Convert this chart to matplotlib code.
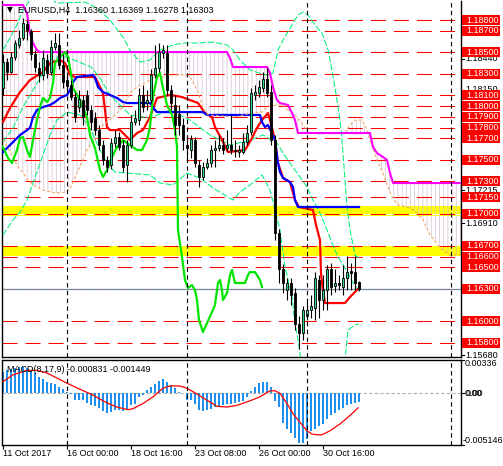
import numpy as np
import matplotlib
matplotlib.use('Agg')
import matplotlib.pyplot as plt
from matplotlib.transforms import blended_transform_factory
from matplotlib.patches import Rectangle, Polygon
from matplotlib.lines import Line2D

plt.rcParams['font.family'] = ['Liberation Sans', 'DejaVu Sans']
plt.rcParams['hatch.linewidth'] = 0.5

# ---------------- candles (EURUSD H4) ----------------
opens = [
1.1817, 1.1841, 1.1832, 1.1846, 1.1857, 1.1863, 1.1876, 1.1870, 1.1848, 1.1835,
1.1829, 1.1843, 1.1832, 1.1855, 1.1857, 1.1838, 1.1824, 1.1820, 1.1808, 1.1799,
1.1806, 1.1810, 1.1796, 1.1789, 1.1778, 1.1764, 1.1750, 1.1745, 1.1766, 1.1771,
1.1764, 1.1745, 1.1764, 1.1785, 1.1787, 1.1810, 1.1803, 1.1806, 1.1829, 1.1835,
1.1849, 1.1849, 1.1815, 1.1801, 1.1793, 1.1782, 1.1764, 1.1759, 1.1768, 1.1745,
1.1734, 1.1743, 1.1747, 1.1759, 1.1761, 1.1764, 1.1761, 1.1764, 1.1759, 1.1757,
1.1757, 1.1767, 1.1776, 1.1810, 1.1812, 1.1817, 1.1825, 1.1813, 1.1768, 1.1682,
1.1648, 1.1629, 1.1635, 1.1626, 1.1597, 1.1589, 1.1605, 1.1610, 1.1612, 1.1638,
1.1620, 1.1629, 1.1648, 1.1633, 1.1635, 1.1632, 1.1640, 1.1647, 1.1646, 1.16360]
highs = [
1.1848, 1.1845, 1.1850, 1.1861, 1.1871, 1.1882, 1.1880, 1.1872, 1.1852, 1.1841,
1.1852, 1.1848, 1.1861, 1.1868, 1.1868, 1.1848, 1.1832, 1.1824, 1.1813, 1.1815,
1.1810, 1.1815, 1.1801, 1.1794, 1.1782, 1.1768, 1.1754, 1.1770, 1.1778, 1.1776,
1.1768, 1.1768, 1.1792, 1.1796, 1.1817, 1.1820, 1.1815, 1.1834, 1.1857, 1.1859,
1.1857, 1.1857, 1.1820, 1.1810, 1.1801, 1.1789, 1.1773, 1.1773, 1.1771, 1.1750,
1.1748, 1.1752, 1.1764, 1.1768, 1.1773, 1.1770, 1.1778, 1.1792, 1.1768, 1.1764,
1.1775, 1.1782, 1.1817, 1.1820, 1.1824, 1.1832, 1.1835, 1.1820, 1.1773, 1.1686,
1.1653, 1.1640, 1.1640, 1.1631, 1.1605, 1.1614, 1.1620, 1.1624, 1.1646, 1.1643,
1.1643, 1.1652, 1.1654, 1.1648, 1.1643, 1.1652, 1.1661, 1.1654, 1.1661, 1.16369]
lows = [
1.1810, 1.1824, 1.1831, 1.1843, 1.1854, 1.1861, 1.1861, 1.1843, 1.1832, 1.1822,
1.1824, 1.1826, 1.1829, 1.1852, 1.1834, 1.1817, 1.1815, 1.1806, 1.1785, 1.1794,
1.1782, 1.1792, 1.1778, 1.1773, 1.1759, 1.1745, 1.1739, 1.1741, 1.1762, 1.1759,
1.1739, 1.1729, 1.1761, 1.1782, 1.1782, 1.1794, 1.1796, 1.1803, 1.1826, 1.1832,
1.1845, 1.1810, 1.1796, 1.1773, 1.1773, 1.1759, 1.1750, 1.1752, 1.1743, 1.1725,
1.1731, 1.1741, 1.1743, 1.1743, 1.1758, 1.1755, 1.1758, 1.1755, 1.1753, 1.1753,
1.1755, 1.1764, 1.1773, 1.1806, 1.1808, 1.1813, 1.1808, 1.1764, 1.1675, 1.1635,
1.1626, 1.1620, 1.1615, 1.1592, 1.1574, 1.1582, 1.1601, 1.1603, 1.1601, 1.1603,
1.1610, 1.1610, 1.1624, 1.1627, 1.1629, 1.1624, 1.1629, 1.1629, 1.1629, 1.16278]
closes = [
1.1841, 1.1832, 1.1846, 1.1859, 1.1863, 1.1877, 1.1871, 1.1848, 1.1836, 1.1829,
1.1845, 1.1831, 1.1855, 1.1859, 1.1838, 1.1822, 1.1819, 1.1808, 1.1790, 1.1807,
1.1790, 1.1796, 1.1785, 1.1778, 1.1764, 1.1750, 1.1743, 1.1766, 1.1771, 1.1762,
1.1743, 1.1764, 1.1785, 1.1789, 1.1810, 1.1799, 1.1806, 1.1829, 1.1835, 1.1850,
1.1852, 1.1815, 1.1803, 1.1782, 1.1782, 1.1768, 1.1761, 1.1769, 1.1747, 1.1734,
1.1743, 1.1747, 1.1759, 1.1761, 1.1764, 1.1759, 1.1764, 1.1759, 1.1758, 1.1759,
1.1767, 1.1775, 1.1812, 1.1813, 1.1818, 1.1825, 1.1812, 1.1768, 1.1682, 1.1648,
1.1635, 1.1635, 1.1624, 1.1597, 1.1589, 1.1610, 1.1610, 1.1614, 1.1640, 1.1620,
1.1629, 1.1648, 1.1632, 1.1635, 1.1634, 1.1640, 1.1646, 1.1645, 1.1635, 1.16303]

# ---------------- Ichimoku (bar index, price) ----------------
tenkan_bar = [0, 1.75, 4.25, 6.75, 10, 11.75, 14.25, 15.5, 16.75, 18, 23, 24.25, 25, 25.5, 26, 26.75,
              29.25, 31, 31.75, 33.5, 35, 36.75, 38.5, 41.75, 44.75, 46.75, 48.75, 50.5, 52.25, 53,
              54.75, 56.25, 60.5, 61.25, 62.25, 63.5, 64.75, 66.25, 66.75, 68, 68.75, 70, 71.75, 73,
              74, 77.5, 78.25, 79.25, 79.5, 79.75, 80.5, 85.5, 86.75, 88.5, 89]
tenkan_val = [1.17851, 1.17982, 1.18130, 1.18242, 1.18316, 1.18400, 1.18428, 1.18400, 1.18289, 1.18270,
              1.18270, 1.18177, 1.18121, 1.17963, 1.17805, 1.17777, 1.17777, 1.17712, 1.17684, 1.17749,
              1.17777, 1.17898, 1.18075, 1.18103, 1.18084, 1.18056, 1.18028, 1.17935, 1.17898, 1.17805,
              1.17684, 1.17572, 1.17591, 1.17637, 1.17703, 1.17796, 1.17870, 1.17935, 1.17870, 1.17684,
              1.17470, 1.17331, 1.17293, 1.17126, 1.17061, 1.17033, 1.16894, 1.16754, 1.16447, 1.16354,
              1.16168, 1.16168, 1.16224, 1.16289, 1.16308]
kijun_bar = [0, 1.75, 4.25, 6.75, 7.5, 8.5, 10, 11.75, 13, 14.25, 16, 16.75, 17.5, 18.5, 22.5, 23,
             23.75, 25, 26.75, 28.5, 30, 31, 36.75, 38, 38.5, 50, 51, 64.25, 64.75, 65.5, 66.25, 68,
             68.75, 69.25, 70, 71.75, 72.5, 73, 73.75, 89]
kijun_val = [1.17572, 1.17637, 1.17730, 1.17796, 1.17898, 1.17963, 1.17991, 1.18010, 1.18037, 1.18075,
             1.18103, 1.18149, 1.18223, 1.18270, 1.18289, 1.18261, 1.18177, 1.18130, 1.18103, 1.18075,
             1.18037, 1.18028, 1.18028, 1.17963, 1.17944, 1.17944, 1.17917, 1.17917, 1.17851, 1.17805,
             1.17824, 1.17684, 1.17470, 1.17386, 1.17331, 1.17293, 1.17247, 1.17126, 1.17061, 1.17061]
chikou_bar = [-0.75, 0, 1.25, 2.25, 3.5, 4.25, 5, 6, 6.75, 7.5, 8.5, 9.25, 10, 11, 11.75, 12.5, 13,
              14.25, 15.5, 16.25, 16.75, 17.25, 17.5, 19.25, 20, 21, 21.75, 23, 24.25, 25, 26, 27.25,
              28.5, 30, 31.75, 33.5, 34.75, 36, 36.75, 37.5, 38.5, 39.25, 40, 41, 42.25, 43, 43.5,
              43.75, 44.75, 45.5, 46.25, 47.25, 48, 48.5, 49, 50, 51, 52.25, 53, 53.75, 54.25, 54.75,
              55, 56, 56.75, 57.25, 58, 60.5, 61.25, 61.75, 63, 64.25, 64.75]
chikou_val = [1.17637, 1.17619, 1.17517, 1.17470, 1.17591, 1.17703, 1.17712, 1.17591, 1.17526, 1.17684,
              1.17870, 1.17991, 1.18075, 1.18037, 1.18075, 1.18214, 1.18400, 1.18456, 1.18502, 1.18456,
              1.18354, 1.18242, 1.18168, 1.18056, 1.17982, 1.17898, 1.17731, 1.17610, 1.17405, 1.17340,
              1.17405, 1.17526, 1.17619, 1.17684, 1.17637, 1.17591, 1.17591, 1.17684, 1.17805, 1.18084,
              1.18270, 1.18307, 1.18168, 1.18010, 1.17917, 1.17777, 1.17619, 1.16847, 1.16596, 1.16382,
              1.16308, 1.16335, 1.16289, 1.16196, 1.16010, 1.15898, 1.15982, 1.16084, 1.16150, 1.16354,
              1.16382, 1.16289, 1.16196, 1.16261, 1.16429, 1.16475, 1.16354, 1.16354, 1.16429, 1.16456,
              1.16456, 1.16382, 1.16317]
spanb_bar = [0, 5, 6, 6.75, 7.5, 8.5, 9.25, 56, 56.75, 57.5, 66, 66.75, 67.5, 68.5, 69.25, 71.25,
             72.25, 73, 73.75, 91.75, 92.5, 93.5, 95, 96, 96.75, 97.5, 114.5]
spanb_val = [1.18940, 1.18940, 1.18865, 1.18679, 1.18586, 1.18521, 1.18502, 1.18502, 1.18447, 1.18363,
             1.18363, 1.18307, 1.18177, 1.18056, 1.18028, 1.18010, 1.17935, 1.17870, 1.17749, 1.17749,
             1.17619, 1.17563, 1.17526, 1.17498, 1.17377, 1.17284, 1.17284]
spana_bar = [0, 1.25, 2.5, 3.75, 5, 6.25, 7.5, 10, 13, 16, 17.25, 18.5, 19.75, 21, 22.25, 23.5, 25,
             27.5, 30, 31.75, 33.5, 36, 37.5, 40, 42.5, 45, 46.75, 47.25, 48.75, 50, 51.25, 58, 60,
             62.25, 64.75, 66.25, 68.5, 70, 71.25, 72.5, 73.5, 75, 76.25, 85.5, 86.75, 88, 89.75, 91,
             91.75, 93.5, 95, 96.25, 97.25, 98.75, 101.75, 103.5, 105, 106.75, 109.25, 111.75, 114.5]
spana_val = [1.17684, 1.17610, 1.17526, 1.17433, 1.17377, 1.17312, 1.17266, 1.17219, 1.17191, 1.17200,
             1.17266, 1.17377, 1.17480, 1.17591, 1.17665, 1.17703, 1.17824, 1.17898, 1.17991, 1.18121,
             1.18177, 1.18223, 1.18261, 1.18270, 1.18289, 1.18289, 1.18270, 1.18242, 1.18130, 1.17982,
             1.17917, 1.17898, 1.17917, 1.17935, 1.17944, 1.17991, 1.18010, 1.18010, 1.17963, 1.17935,
             1.17898, 1.17824, 1.17749, 1.17749, 1.17824, 1.17870, 1.17870, 1.17777, 1.17684, 1.17498,
             1.17377, 1.17247, 1.17154, 1.17080, 1.17052, 1.17005, 1.16940, 1.16801, 1.16680, 1.16615,
             1.16615]

# ---------------- Bollinger bands ----------------
bb_up_bar = [0, 1.75, 3.5, 5, 6.75, 10.5, 13.5, 20.5, 23.5, 26.75, 30, 31.75, 34.25, 36.75, 39.25,
             42.5, 45, 48.5, 52.5, 56, 57.5, 59.25, 61.75, 65.5, 67.5, 68.75, 70, 72.25, 73.75, 75,
             76.25, 78, 79.75, 81.25, 82.25, 83.5, 84.25, 84.75, 85.5, 86, 86.75, 88, 89]
bb_up_val = [1.18521, 1.18633, 1.18754, 1.18893, 1.18986, 1.19033, 1.18958, 1.18967, 1.18912, 1.18800,
             1.18642, 1.18521, 1.18409, 1.18428, 1.18521, 1.18568, 1.18586, 1.18586, 1.18595, 1.18568,
             1.18521, 1.18428, 1.18335, 1.18289, 1.18307, 1.18521, 1.18614, 1.18754, 1.18847, 1.18874,
             1.18847, 1.18754, 1.18679, 1.18521, 1.18335, 1.18056, 1.17870, 1.17684, 1.17312, 1.17061,
             1.16847, 1.16614, 1.16587]
bb_mid_bar = [0, 2.5, 5, 7.5, 10, 13.5, 16, 19, 22, 24.25, 26.75, 28, 31.75, 36.75, 41.75, 46.75,
              51.75, 56.75, 61.75, 65, 68.5, 70, 71.75, 74.25, 76, 77.5, 79.25, 81, 82.25, 83.75,
              84.75, 86.25, 87.5, 89]
bb_mid_val = [1.17665, 1.17796, 1.17991, 1.18149, 1.18307, 1.18456, 1.18456, 1.18409, 1.18363, 1.18261,
              1.18103, 1.18056, 1.17917, 1.17889, 1.17963, 1.17870, 1.17731, 1.17637, 1.17684, 1.17731,
              1.17656, 1.17563, 1.17470, 1.17340, 1.17247, 1.17126, 1.17005, 1.16847, 1.16727, 1.16596,
              1.16540, 1.16447, 1.16354, 1.16280]
bb_lo_bar = [0, 2.5, 4.25, 6, 7.5, 10, 11.75, 13.5, 16, 19.25, 21.75, 24.25, 26, 28, 36.75, 39.25,
             42.5, 46, 49.25, 52.5, 57.5, 59.25, 61.75, 64.75, 66.75, 69.25, 70.5, 72.25, 73, 73.75,
             74.5, 79.25, 85.5, 86.25, 88, 89]
bb_lo_val = [1.16801, 1.16940, 1.17014, 1.17126, 1.17284, 1.17545, 1.17731, 1.17870, 1.17944, 1.17917,
             1.17796, 1.17591, 1.17470, 1.17386, 1.17359, 1.17284, 1.17266, 1.17377, 1.17331, 1.17238,
             1.17126, 1.17200, 1.17266, 1.17359, 1.17219, 1.16847, 1.16503, 1.16224, 1.15982, 1.15824,
             1.15638, 1.15080, 1.15638, 1.15917, 1.15964, 1.15973]

# ---------------- MACD(8,17,9) ----------------
macd_main = [
0.00208, 0.00228, 0.00242, 0.00252, 0.00262, 0.00262, 0.00252, 0.00235, 0.00201, 0.00161,
0.00141, 0.00117, 0.00100, 0.00093, 0.00066, 0.00040, 0.00009, -0.00005, -0.00069, -0.00069,
-0.00069, -0.00096, -0.00113, -0.00126, -0.00143, -0.00180, -0.00197, -0.00187, -0.00163, -0.00163,
-0.00177, -0.00170, -0.00120, -0.00102, -0.00035, -0.00020, 0.00032, 0.00060, 0.00093, 0.00127,
0.00141, 0.00117, 0.00083, 0.00050, 0.00015, 0.00005, -0.00062, -0.00069, -0.00102, -0.00170,
-0.00177, -0.00170, -0.00153, -0.00137, -0.00130, -0.00120, -0.00110, -0.00102, -0.00096, -0.00086,
-0.00076, -0.00042, 0.00025, 0.00066, 0.00100, 0.00113, 0.00113, 0.00060, -0.00076, -0.00137,
-0.00299, -0.00356, -0.00400, -0.00447, -0.00491, -0.00491, -0.00457, -0.00373, -0.00356, -0.00322,
-0.00305, -0.00254, -0.00221, -0.00197, -0.00163, -0.00143, -0.00120, -0.00102, -0.00096, -0.000831]
signal_bar = [0, 2.5, 6, 8.5, 11, 13.5, 16, 19.25, 22.5, 26, 28.5, 31.25, 32.5, 35, 37.5, 40, 41.75,
              44.25, 46, 48.5, 51, 53.5, 56, 58.5, 61.75, 64.25, 66.75, 68, 69.25, 71, 72.5, 74.25,
              76, 77.25, 78.5, 79.75, 81.75, 84.25, 86.75, 88.75]
signal_val = [0.00116, 0.00184, 0.00228, 0.00228, 0.00201, 0.00151, 0.00100, 0.00040, -0.00018, -0.00096,
              -0.00137, -0.00163, -0.00153, -0.00102, -0.00035, 0.00050, 0.00073, 0.00073, 0.00050, -0.00008,
              -0.00069, -0.00130, -0.00137, -0.00120, -0.00075, -0.00035, 0.00025, 0.00025, -0.00001, -0.00102,
              -0.00204, -0.00289, -0.00373, -0.00406, -0.00413, -0.00413, -0.00373, -0.00305, -0.00221, -0.001449]

# ---------------- levels / annotations ----------------
red_levels = [1.1880, 1.1870, 1.1850, 1.1830, 1.1810, 1.1800, 1.1790, 1.1780, 1.1770, 1.1750,
              1.1730, 1.1715, 1.1700, 1.1670, 1.1660, 1.1650, 1.1630, 1.1600, 1.1580]
black_levels = [1.18440, 1.18150, 1.17215, 1.16910, 1.15680]
yellow_zones = [(1.16977, 1.17068), (1.16606, 1.16694)]
bid_price = 1.16303
separator_bars = [16, 46, 76, 112]
date_bars = [0, 16, 32, 48, 64, 80]
date_labels = ['11 Oct 2017', '16 Oct 00:00', '18 Oct 16:00', '23 Oct 08:00', '26 Oct 00:00', '30 Oct 16:00']
header = 'EURUSD,H4  1.16360 1.16369 1.16278 1.16303'
macd_title = 'MACD(8,17,9) -0.000831 -0.001449'
macd_top, macd_bottom = 0.00336, -0.005146
price_top, price_bottom = 1.18977, 1.15666

# ---------------- figure ----------------
W, H = 503, 466
fig = plt.figure(figsize=(W / 100, H / 100), dpi=100)
fig.patch.set_facecolor('white')

def rect(x0, y0, x1, y1):
    return [x0 / W, 1 - y1 / H, (x1 - x0) / W, (y1 - y0) / H]

ax = fig.add_axes(rect(2, 1, 461, 357))
ax2 = fig.add_axes(rect(2, 359.5, 461, 445))
XL = (-0.25, 114.5)
for a in (ax, ax2):
    a.set_xlim(*XL)
    a.set_xticks([])
    a.set_yticks([])
    for s in a.spines.values():
        s.set_linewidth(1.0)
        s.set_color('black')
ax.spines['top'].set_visible(False)
ax.set_ylim(price_bottom, price_top)
ax2.set_ylim(macd_bottom, macd_top)

# yellow zones
for lo, hi in yellow_zones:
    ax.axhspan(lo, hi, color='#FFFF00', zorder=0.5, lw=0)

# Ichimoku cloud hatch
verts = list(zip(spana_bar, spana_val)) + list(zip(spanb_bar[::-1], spanb_val[::-1]))
cloud = Polygon(verts, closed=True, facecolor='none', edgecolor='#d2bdd2', hatch='||||', lw=0, zorder=1)
ax.add_patch(cloud)

# horizontal level lines
for lv in red_levels:
    kw = {}
    if abs(lv - 1.1700) < 1e-6:
        kw['gapcolor'] = 'white'
    ax.axhline(lv, color='red', lw=0.75, linestyle=(0, (14.4, 7.7)), zorder=2, **kw)
ax.axhline(bid_price, color='#778899', lw=0.9, zorder=2.2)

# Bollinger bands
bbkw = dict(color='#00F07A', lw=0.75, linestyle=(0, (6, 2)), zorder=3)
ax.plot(bb_up_bar, bb_up_val, **bbkw)
ax.plot(bb_mid_bar, bb_mid_val, **bbkw)
ax.plot(bb_lo_bar, bb_lo_val, **bbkw)

# Ichimoku lines
ax.plot(tenkan_bar, tenkan_val, color='#FF0000', lw=1.6, zorder=4.0)
ax.plot(kijun_bar, kijun_val, color='#0000FF', lw=1.6, zorder=4.1)
ax.plot(spana_bar, spana_val, color='#F4A460', lw=0.8, linestyle=(0, (2.5, 2)), zorder=4.2)
ax.plot(spanb_bar, spanb_val, color='#FF00FF', lw=1.5, zorder=4.3)
ax.plot(chikou_bar, chikou_val, color='#00E600', lw=1.6, zorder=4.4)

# candles
o = np.array(opens); h = np.array(highs); l = np.array(lows); c = np.array(closes)
x = np.arange(len(o))
up = c >= o
ax.vlines(x, l, h, color='black', lw=0.8, zorder=5)
body = np.maximum(np.abs(c - o), 0.00003)
ax.bar(x, body, bottom=np.minimum(o, c), width=0.72,
       color=np.where(up, '#2fd48a', 'black'), edgecolor='black', linewidth=0.6, zorder=6)

# separators
for a in (ax, ax2):
    for sb in separator_bars:
        a.axvline(sb, color='black', lw=0.8, linestyle=(0, (4, 3)), zorder=8)

# MACD
ax2.axhline(0, color='#b0b0b0', lw=0.8, linestyle=(0, (3, 2)), zorder=1)
ax2.bar(x, macd_main, width=0.72, color='#2090F0', zorder=2)
ax2.plot(signal_bar, signal_val, color='red', lw=0.9, zorder=3)

# right side price labels
tr = blended_transform_factory(ax.transAxes, ax.transData)
px = 1.0 / 459.0
ph = (price_top - price_bottom) / 356.0
for lv in black_levels:
    ax.text(1 + 4 * px, lv, f'{lv:.5f}', transform=tr, fontsize=6.5, color='black',
            ha='left', va='center', clip_on=False, zorder=10)
    ax.add_line(Line2D([1, 1 + 3 * px], [lv, lv], transform=tr, color='black', lw=0.8, clip_on=False))
for lv in red_levels:
    ax.add_patch(Rectangle((1 + 1 * px, lv - 5 * ph), 38 * px, 10 * ph, transform=tr,
                           facecolor='#FF0000', edgecolor='none', clip_on=False, zorder=11))
    ax.text(1 + 5 * px, lv, f'{lv:.5f}', transform=tr, fontsize=6.5, color='white',
            ha='left', va='center', clip_on=False, zorder=12)

# MACD right labels
tr2 = blended_transform_factory(ax2.transAxes, ax2.transData)
ax2.text(1 + 4 * px, macd_top, f'{macd_top:.5f}', transform=tr2, fontsize=6.5, ha='left', va='top', clip_on=False)
ax2.text(1 + 4 * px, 0, '0.00', transform=tr2, fontsize=6.5, ha='left', va='center', clip_on=False)
ax2.text(1 + 4.6 * px, 0, '0.00', transform=tr2, fontsize=6.5, ha='left', va='center', clip_on=False)
ax2.text(1 + 2 * px, macd_bottom, f'{macd_bottom:.6f}', transform=tr2, fontsize=6.5, ha='left', va='bottom', clip_on=False)
for v in (macd_top, 0, macd_bottom):
    ax2.add_line(Line2D([1, 1 + 3 * px], [v, v], transform=tr2, color='black', lw=0.8, clip_on=False))

# header texts
fig.text(7 / W, 1 - 10 / H, '\u25BC', fontsize=5.5, family='DejaVu Sans', va='center', ha='left')
fig.text(18.5 / W, 1 - 10 / H, header, fontsize=6.5, va='center', ha='left')
fig.text(7 / W, 1 - 369.5 / H, macd_title, fontsize=6.5, va='center', ha='left')

# date axis
ax2.set_xticks(date_bars)
ax2.set_xticklabels([])
ax2.tick_params(axis='x', length=3, width=0.8, direction='out')
for b, lab in zip(date_bars, date_labels):
    xp = 3 + 4 * b
    fig.text(xp / W, 1 - 454 / H, lab, fontsize=6.5, va='center', ha='left')

fig.savefig('out.png', dpi=100, facecolor='white')
